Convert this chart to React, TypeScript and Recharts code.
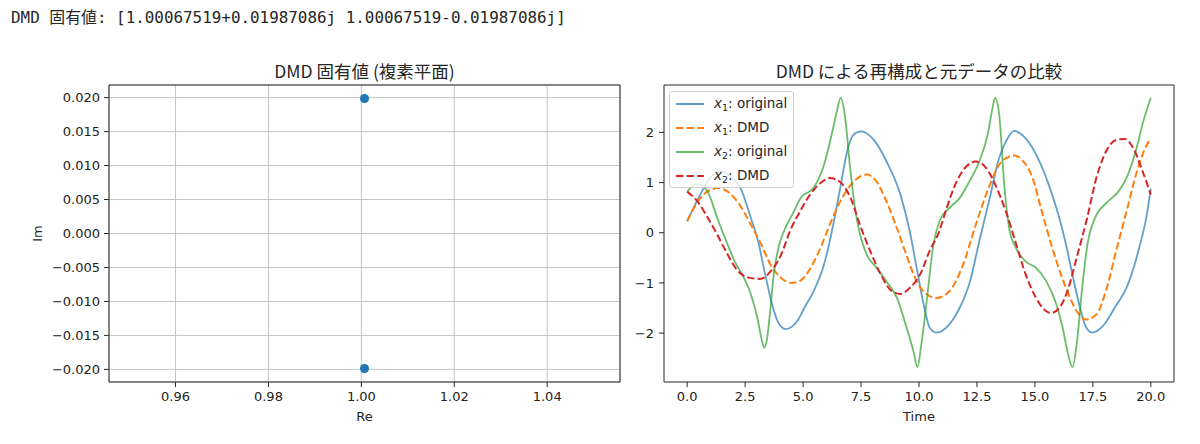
import React from "react";
import {
  ScatterChart,
  Scatter,
  LineChart,
  Line,
  XAxis,
  YAxis,
  CartesianGrid,
  ReferenceArea,
  Label,
} from "recharts";

// printed output above the figure
const eigenText = "DMD 固有値: [1.00067519+0.01987086j 1.00067519-0.01987086j]";

// eigenvalues (complex plane)
const eigRe = [1.00067519, 1.00067519];
const eigIm = [0.01987086, -0.01987086];

const reTicks = [0.96, 0.98, 1.0, 1.02, 1.04];
const imTicks = [-0.02, -0.015, -0.01, -0.005, 0, 0.005, 0.01, 0.015, 0.02];
const timeTicks = [0, 2.5, 5, 7.5, 10, 12.5, 15, 17.5, 20];
const valueTicks = [-2, -1, 0, 1, 2];

// [time, value]
const x1Original = [
  [0, 0.23], [0.45, 0.66], [0.75, 0.92], [1.05, 1.13], [1.5, 1.22], [1.9, 1.1],
  [2.3, 0.89], [2.75, 0.29], [3.05, -0.15], [3.35, -0.8], [3.65, -1.4], [3.9, -1.76],
  [4.25, -1.92], [4.75, -1.76], [5.05, -1.5], [5.45, -1.17], [5.9, -0.64], [6.3, 0.16],
  [6.6, 0.89], [6.9, 1.62], [7.17, 1.95], [7.5, 2.02], [8.05, 1.85], [8.6, 1.42],
  [9.2, 0.76], [9.6, 0.03], [9.9, -0.7], [10.2, -1.43], [10.47, -1.9], [10.75, -1.99],
  [11.3, -1.83], [11.75, -1.5], [12.2, -0.97], [12.6, -0.17], [13.05, 0.69], [13.45, 1.48],
  [13.75, 1.82], [14.1, 2.03], [14.6, 1.88], [15.2, 1.42], [15.75, 0.75], [16.05, 0.3],
  [16.35, -0.25], [16.65, -0.9], [16.95, -1.5], [17.2, -1.88], [17.47, -1.99], [17.95, -1.85],
  [18.5, -1.45], [18.95, -1.1], [19.5, -0.3], [19.8, 0.29], [20, 0.88],
];

const x1Dmd = [
  [0, 0.23], [0.45, 0.62], [0.9, 0.83], [1.35, 0.89], [1.75, 0.82], [2.2, 0.6],
  [2.75, 0.16], [3.2, -0.24], [3.6, -0.64], [4.05, -0.9], [4.5, -1.0], [4.9, -0.95],
  [5.3, -0.72], [5.75, -0.3], [6.15, 0.16], [6.6, 0.62], [7.05, 0.95], [7.45, 1.12],
  [7.75, 1.16], [8.15, 1.03], [8.6, 0.62], [9.05, 0.09], [9.5, -0.5], [9.9, -0.97],
  [10.35, -1.23], [10.75, -1.3], [11.3, -1.17], [11.9, -0.64], [12.45, 0.16], [13.05, 0.95],
  [13.45, 1.35], [13.9, 1.52], [14.1, 1.54], [14.45, 1.45], [14.9, 1.09], [15.3, 0.42],
  [15.75, -0.3], [16.1, -0.8], [16.4, -1.17], [16.8, -1.56], [17.2, -1.73], [17.65, -1.63],
  [18.1, -1.1], [18.5, -0.37], [18.95, 0.42], [19.4, 1.22], [19.75, 1.68], [20, 1.88],
];

const x2Original = [
  [0, 0.82], [0.3, 0.95], [0.45, 0.97], [0.88, 0.82], [1.3, 0.29], [1.75, -0.24],
  [2.05, -0.57], [2.45, -0.9], [2.75, -1.23], [3.03, -1.7], [3.2, -2.1], [3.32, -2.29],
  [3.45, -2.1], [3.55, -1.7], [3.75, -0.77], [3.97, -0.24], [4.3, 0.16], [4.6, 0.42],
  [4.9, 0.7], [5.45, 0.89], [5.9, 1.35], [6.23, 1.95], [6.45, 2.41], [6.62, 2.69],
  [6.8, 2.35], [7.03, 1.29], [7.24, 0.49], [7.46, -0.04], [7.75, -0.44], [8.17, -0.7],
  [8.6, -0.97], [9.05, -1.3], [9.47, -1.9], [9.76, -2.36], [9.93, -2.68], [10.1, -2.23],
  [10.33, -1.37], [10.62, -0.24], [10.9, 0.25], [11.3, 0.49], [11.75, 0.69], [12.17, 1.02],
  [12.6, 1.42], [12.96, 1.95], [13.17, 2.48], [13.28, 2.69], [13.46, 2.35], [13.68, 0.95],
  [13.89, 0.09], [14.18, -0.3], [14.6, -0.57], [15.05, -0.7], [15.47, -0.95], [15.92, -1.42],
  [16.2, -1.9], [16.42, -2.4], [16.62, -2.68], [16.82, -2.15], [17.05, -1.05], [17.27, -0.22],
  [17.6, 0.3], [18.1, 0.6], [18.6, 0.82], [18.95, 1.09], [19.38, 1.68], [19.67, 2.21],
  [20, 2.69],
];

const x2Dmd = [
  [0, 0.82], [0.45, 0.62], [0.9, 0.29], [1.3, -0.04], [1.75, -0.44], [2.15, -0.74],
  [2.6, -0.89], [3.15, -0.92], [3.6, -0.77], [4.05, -0.44], [4.45, 0.05], [4.9, 0.45],
  [5.3, 0.76], [5.75, 0.99], [6.15, 1.09], [6.6, 1.01], [7.05, 0.69], [7.45, 0.16],
  [7.9, -0.37], [8.35, -0.83], [8.75, -1.13], [9.2, -1.22], [9.6, -1.1], [10.05, -0.83],
  [10.45, -0.37], [10.85, 0.0], [11.2, 0.5], [11.6, 1.0], [12.0, 1.3], [12.45, 1.42],
  [12.9, 1.29], [13.3, 0.95], [13.75, 0.42], [14.2, -0.24], [14.6, -0.83], [15.05, -1.3],
  [15.45, -1.55], [15.7, -1.6], [16.05, -1.5], [16.4, -1.17], [16.8, -0.5], [17.25, 0.29],
  [17.65, 1.09], [18.1, 1.65], [18.5, 1.85], [18.88, 1.87], [19.25, 1.68], [19.65, 1.22],
  [20, 0.76],
];

const toPoints = (pairs: number[][]) => pairs.map(([t, v]) => ({ t, v }));
const eigenPoints = eigRe.map((re, i) => ({ re, im: eigIm[i] }));

const series = [
  { name: "x1 original", sub: "1", label: "original", data: x1Original, color: "#1f77b4", dashed: false },
  { name: "x1 DMD", sub: "1", label: "DMD", data: x1Dmd, color: "#ff7f0e", dashed: true },
  { name: "x2 original", sub: "2", label: "original", data: x2Original, color: "#2ca02c", dashed: false },
  { name: "x2 DMD", sub: "2", label: "DMD", data: x2Dmd, color: "#d62728", dashed: true },
];

const sansFont = "'DejaVu Sans', 'Noto Sans CJK JP', sans-serif";
const titleFont = "'Noto Sans CJK JP', 'DejaVu Sans', sans-serif";
const tickStyle = { fontFamily: sansFont, fontSize: 13, fill: "#222" };
const ink = "#262626";

const minus = (s: string) => s.replace("-", "\u2212");

const reDomain = [1.00067519 - 0.055, 1.00067519 + 0.055];
const imDomain = [-0.021858, 0.021858];
const timeDomain = [-1, 21];
const valueDomain = [-2.975, 2.945];

function VerticalLabel({ viewBox, value }: any) {
  if (!viewBox) return null;
  const cx = viewBox.x + 28;
  const cy = viewBox.y + viewBox.height / 2;
  return (
    <text
      x={cx}
      y={cy}
      transform={`rotate(-90 ${cx} ${cy})`}
      textAnchor="middle"
      dominantBaseline="central"
      style={{ fontFamily: sansFont, fontSize: 13, fill: ink }}
    >
      {value}
    </text>
  );
}

function Title({ left, width, text }: { left: number; width: number; text: string }) {
  return (
    <div
      style={{
        position: "absolute",
        left,
        top: 60,
        width,
        textAlign: "center",
        fontFamily: titleFont,
        fontSize: 17.5,
        lineHeight: "22px",
        color: ink,
      }}
    >
      {text}
    </div>
  );
}

function LegendBox() {
  return (
    <div
      style={{
        position: "absolute",
        left: 669,
        top: 91,
        width: 125,
        height: 97,
        boxSizing: "border-box",
        background: "rgba(255,255,255,0.8)",
        border: "1px solid #d0d0d0",
        borderRadius: 3,
      }}
    >
      {series.map((s) => (
        <div key={s.name} style={{ height: 24, display: "flex", alignItems: "center" }}>
          <svg width={44} height={24} style={{ flex: "none" }}>
            <line
              x1={6}
              x2={34}
              y1={12}
              y2={12}
              stroke={s.color}
              strokeOpacity={s.dashed ? 1 : 0.7}
              strokeWidth={2}
              strokeDasharray={s.dashed ? "7.4 3.2" : undefined}
            />
          </svg>
          <span style={{ fontFamily: sansFont, fontSize: 13.5, color: ink, whiteSpace: "pre" }}>
            <i>x</i>
            <sub style={{ fontSize: 9.5, verticalAlign: "-3px" }}>{s.sub}</sub>: {s.label}
          </span>
        </div>
      ))}
    </div>
  );
}

export default function App() {
  return (
    <div
      style={{
        position: "absolute",
        left: 0,
        top: 0,
        width: 1200,
        height: 444,
        background: "#fff",
        overflow: "hidden",
      }}
    >
      <div
        style={{
          position: "absolute",
          left: 11,
          top: 8,
          fontFamily: "'DejaVu Sans Mono', 'Noto Sans CJK JP', monospace",
          fontSize: 15.9,
          lineHeight: "20px",
          color: ink,
          whiteSpace: "pre",
        }}
      >
        {eigenText}
      </div>

      <Title left={109} width={511} text="DMD 固有値 (複素平面)" />
      <Title left={664} width={510} text="DMD による再構成と元データの比較" />

      {/* left: eigenvalues in the complex plane */}
      <div style={{ position: "absolute", left: 0, top: 0 }}>
        <ScatterChart width={640} height={444} margin={{ top: 85, right: 20, bottom: 18, left: 9 }}>
          <CartesianGrid stroke="#c4c4c4" strokeWidth={1} />
          <XAxis
            type="number"
            dataKey="re"
            domain={reDomain}
            ticks={reTicks}
            allowDataOverflow
            tickFormatter={(v: number) => v.toFixed(2)}
            tick={tickStyle}
            tickLine={{ stroke: ink }}
            tickSize={5}
            tickMargin={5}
            axisLine={false}
            height={44}
          >
            <Label value="Re" position="insideBottom" offset={5} style={{ fontFamily: sansFont, fontSize: 13, fill: ink }} />
          </XAxis>
          <YAxis
            type="number"
            dataKey="im"
            domain={imDomain}
            ticks={imTicks}
            allowDataOverflow
            tickFormatter={(v: number) => minus(v.toFixed(3))}
            tick={tickStyle}
            tickLine={{ stroke: ink }}
            tickSize={5}
            tickMargin={4}
            axisLine={false}
            width={100}
          >
            <Label value="Im" content={<VerticalLabel />} />
          </YAxis>
          <ReferenceArea
            x1={reDomain[0]}
            x2={reDomain[1]}
            y1={imDomain[0]}
            y2={imDomain[1]}
            fill="none"
            stroke={ink}
            strokeWidth={1}
          />
          <Scatter data={eigenPoints} fill="#1f77b4" shape="circle" isAnimationActive={false} />
        </ScatterChart>
      </div>

      {/* right: reconstruction vs original */}
      <div style={{ position: "absolute", left: 620, top: 0 }}>
        <LineChart width={580} height={444} margin={{ top: 85, right: 26, bottom: 18, left: 14 }}>
          <XAxis
            type="number"
            dataKey="t"
            domain={timeDomain}
            ticks={timeTicks}
            allowDataOverflow
            tickFormatter={(v: number) => v.toFixed(1)}
            tick={tickStyle}
            tickLine={{ stroke: ink }}
            tickSize={5}
            tickMargin={5}
            axisLine={false}
            height={44}
          >
            <Label value="Time" position="insideBottom" offset={5} style={{ fontFamily: sansFont, fontSize: 13, fill: ink }} />
          </XAxis>
          <YAxis
            type="number"
            domain={valueDomain}
            ticks={valueTicks}
            allowDataOverflow
            tickFormatter={(v: number) => minus(String(v))}
            tick={tickStyle}
            tickLine={{ stroke: ink }}
            tickSize={5}
            tickMargin={5}
            axisLine={false}
            width={30}
          />
          <ReferenceArea
            x1={timeDomain[0]}
            x2={timeDomain[1]}
            y1={valueDomain[0]}
            y2={valueDomain[1]}
            fill="none"
            stroke={ink}
            strokeWidth={1}
          />
          {series.map((s) => (
            <Line
              key={s.name}
              name={s.name}
              data={toPoints(s.data)}
              dataKey="v"
              type="monotone"
              stroke={s.color}
              strokeOpacity={s.dashed ? 1 : 0.7}
              strokeWidth={s.dashed ? 2 : 1.8}
              strokeDasharray={s.dashed ? "7.4 3.2" : undefined}
              dot={false}
              activeDot={false}
              isAnimationActive={false}
            />
          ))}
        </LineChart>
      </div>

      <LegendBox />
    </div>
  );
}
